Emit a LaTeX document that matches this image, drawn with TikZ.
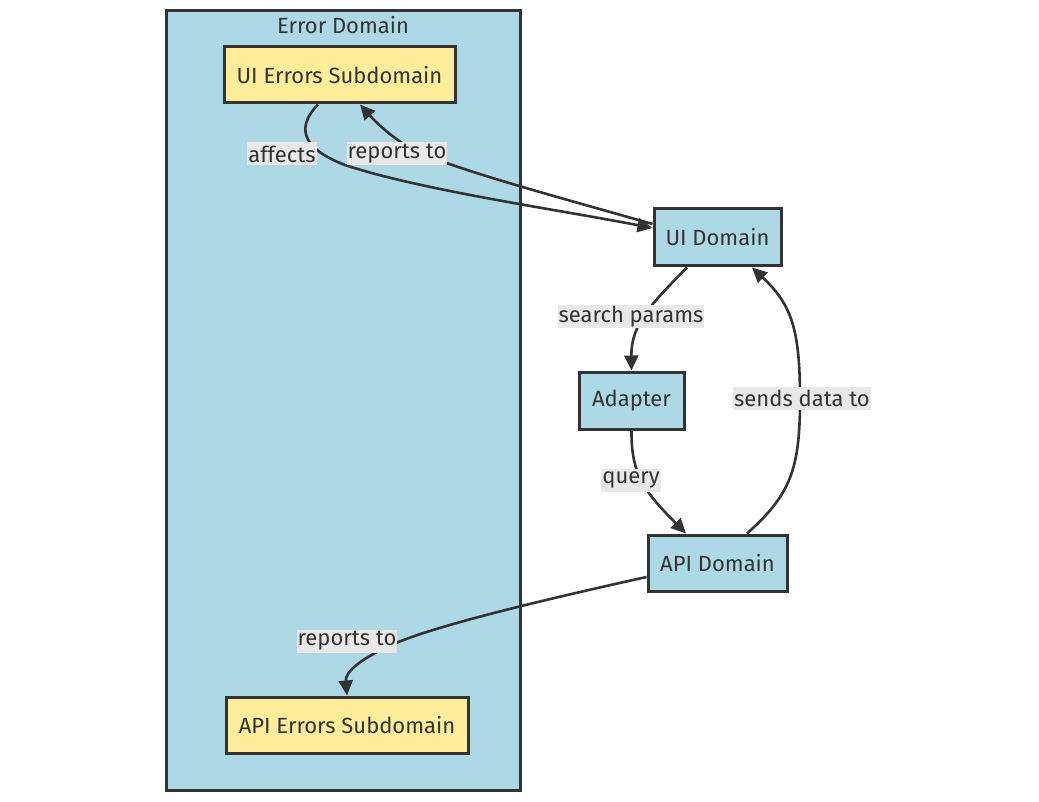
\documentclass[tikz,border=0pt]{standalone}
\usepackage{fontspec}
\setmainfont{Fira Sans}
\usetikzlibrary{arrows.meta}
\definecolor{bluefill}{HTML}{ADD8E6}
\definecolor{yellowfill}{HTML}{FFED99}
\definecolor{ink}{HTML}{333333}
\definecolor{lblbg}{HTML}{E8E8E8}
\tikzset{
  box/.style={draw=ink, line width=3pt, inner sep=0pt, text=ink},
  domainbox/.style={box, fill=bluefill},
  errbox/.style={box, fill=yellowfill},
  clusterbox/.style={draw=ink, line width=3pt, fill=bluefill, inner sep=0pt},
  lbl/.style={fill=lblbg, text=ink, inner xsep=1pt, inner ysep=0pt, minimum height=23pt},
  conn/.style={draw=ink, line width=2.6pt, -{Triangle[length=15pt,width=14pt]}},
}
\begin{document}
\begin{tikzpicture}[x=1pt,y=-1pt,font=\fontsize{22}{26}\selectfont]
\useasboundingbox (0,0) rectangle (1039,802);
\fill[white] (0,0) rectangle (1039,802);
\node[clusterbox, minimum width=354pt, minimum height=779pt] (errdom) at (343,400.5) {};
\node[text=ink] (errtitle) at (343,25) {Error Domain};

\node[errbox, minimum width=231pt, minimum height=56pt] (uierr) at (339.5,75) {UI Errors Subdomain};
\node[errbox, minimum width=242pt, minimum height=56pt] (apierr) at (347,725) {API Errors Subdomain};
\node[domainbox, minimum width=127pt, minimum height=57pt] (uid) at (717.5,237.5) {UI Domain};
\node[domainbox, minimum width=105pt, minimum height=57pt] (adapter) at (631.5,400.5) {Adapter};
\node[domainbox, minimum width=139pt, minimum height=56pt] (apid) at (717.5,563) {API Domain};

% affects
\draw[conn] ([xshift=-21.5pt]uierr.south) .. controls (298,125) and (298,147) .. (345,165)
  .. controls (420,190) and (560,210) .. ([yshift=9.5pt]uid.west);
% reports to (UI Domain -> UI Errors)
\draw[conn] ([yshift=13.5pt]uid.west) .. controls (540,192) and (450,168) .. (410,148)
  .. controls (388,135) and (372,118) .. ([xshift=20.5pt]uierr.south);
% search params
\draw[conn] ([xshift=-30.5pt]uid.south) .. controls (650,305) and (631,325) .. (adapter.north);
% query
\draw[conn] (adapter.south) .. controls (631,475) and (645,492) .. ([xshift=-31.5pt]apid.north);
% sends data to
\draw[conn] ([xshift=29.5pt]apid.north) .. controls (790,495) and (800,470) .. (800,400)
  .. controls (800,330) and (792,305) .. ([xshift=34.5pt]uid.south);
% reports to (API Domain -> API Errors)
\draw[conn] ([yshift=-14pt]apid.west) .. controls (520,605) and (420,630) .. (385,648)
  .. controls (360,660) and (345,672) .. (apierr.north);

\node[lbl] (laffects) at (282,154) {affects};
\node[lbl] (lrep1) at (397,154) {reports to};
\node[lbl] (lsearch) at (631,317) {search params};
\node[lbl] (lquery) at (631,480) {query};
\node[lbl] (lsends) at (802,398) {sends data to};
\node[lbl] (lrep2) at (347,641) {reports to};
\end{tikzpicture}
\end{document}
